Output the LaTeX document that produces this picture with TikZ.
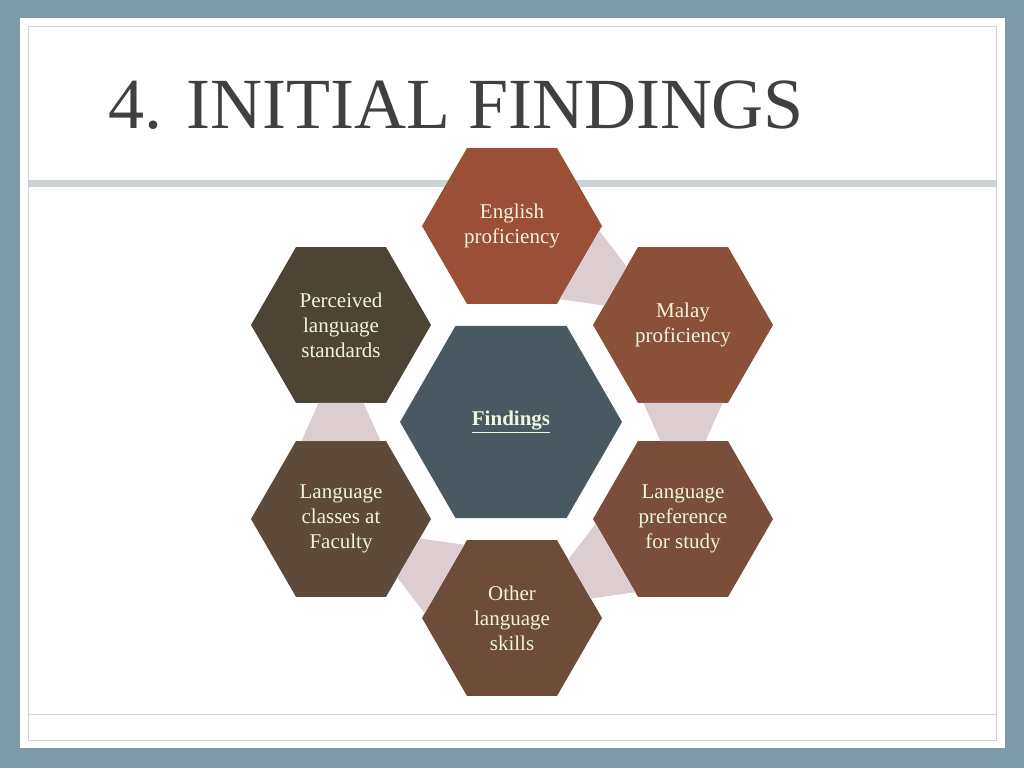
\documentclass[tikz,border=0pt]{standalone}
\usepackage{fontspec}
\setmainfont{Liberation Serif}
\usetikzlibrary{calc}
\definecolor{bgc}{HTML}{7F9AA7}
\definecolor{band}{HTML}{CDD2D4}
\definecolor{conn}{HTML}{DCCDD0}
\definecolor{txt}{HTML}{EEF5DC}
\definecolor{ttl}{HTML}{404040}
\definecolor{cEn}{HTML}{9B4F36}
\definecolor{cMa}{HTML}{8A5038}
\definecolor{cLp}{HTML}{7A4E3A}
\definecolor{cOt}{HTML}{6D4C3A}
\definecolor{cLc}{HTML}{5D4A3A}
\definecolor{cPe}{HTML}{4E4436}
\definecolor{cCe}{HTML}{4A5961}
\tikzset{lbl/.style={text=txt,align=center,font=\fontsize{21}{25}\selectfont},
 cn/.style={fill=conn,draw=none}}
\newcommand{\hexa}[5]{% name, x, y, halfw, color
 \pgfmathsetmacro\hh{#4*0.866}\pgfmathsetmacro\qw{#4/2}
 \coordinate (#1-R) at (#2+#4,#3); \coordinate (#1-L) at (#2-#4,#3);
 \coordinate (#1-BR) at (#2+\qw,#3+\hh); \coordinate (#1-BL) at (#2-\qw,#3+\hh);
 \coordinate (#1-TR) at (#2+\qw,#3-\hh); \coordinate (#1-TL) at (#2-\qw,#3-\hh);
 \fill[#5] (#1-R)--(#1-BR)--(#1-BL)--(#1-L)--(#1-TL)--(#1-TR)--cycle;}
\newcommand{\conq}[4]{% A1 A2 (wide) B1 B2 (narrow)
 \fill[cn] ($(#1)!0.06!(#2)$)--($(#1)!0.94!(#2)$)--($(#3)!0.75!(#4)$)--($(#3)!0.25!(#4)$)--cycle;}
\begin{document}
\begin{tikzpicture}[x=1pt,y=-1pt]
\useasboundingbox (0,0) rectangle (1024,768);
\fill[bgc] (0,0) rectangle (1024,768);
\fill[white] (20,18) rectangle (1005,748);
\draw[band,line width=0.8] (28,26) rectangle (996,740);
\fill[band] (28,180) rectangle (996,187);
\draw[band,line width=0.8] (28,714) -- (996,714);
\node[anchor=base west,text=ttl,inner sep=0,font=\fontsize{72}{72}\selectfont] (title) at (108,128) {4. INITIAL FINDINGS};
\hexa{en}{512}{226}{90}{cEn}
\hexa{ma}{683}{325}{90}{cMa}
\hexa{lp}{683}{519}{90}{cLp}
\hexa{ot}{512}{618}{90}{cOt}
\hexa{lc}{341}{519}{90}{cLc}
\hexa{pe}{341}{325}{90}{cPe}
\hexa{ce}{511}{422}{111}{cCe}
\conq{en-R}{en-BR}{ma-TL}{ma-L}
\conq{ma-BR}{ma-BL}{lp-TR}{lp-TL}
\conq{lp-L}{lp-BL}{ot-TR}{ot-R}
\conq{ot-TL}{ot-L}{lc-R}{lc-BR}
\conq{lc-TL}{lc-TR}{pe-BL}{pe-BR}
\node[lbl] (enT) at (512,226) {English\\proficiency};
\node[lbl] (maT) at (683,325) {Malay\\proficiency};
\node[lbl] (lpT) at (683,519) {Language\\preference\\for study};
\node[lbl] (otT) at (512,618) {Other\\language\\skills};
\node[lbl] (lcT) at (341,519) {Language\\classes at\\Faculty};
\node[lbl] (peT) at (341,325) {Perceived\\language\\standards};
\node[lbl] (ceT) at (511,422) {\underline{\textbf{Findings}}};
\end{tikzpicture}
\end{document}
